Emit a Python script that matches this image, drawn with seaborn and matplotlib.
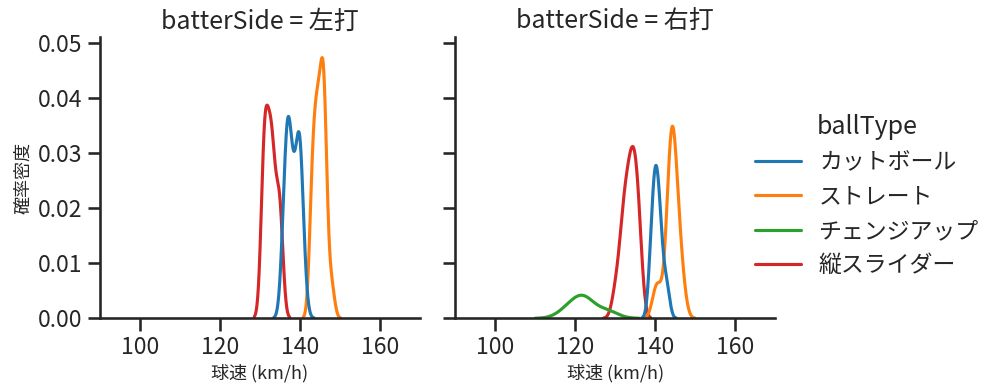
import pandas as pd
import seaborn as sns
from matplotlib import pyplot as plt

sns.set_theme(style="ticks", context="talk", palette="tab10")
plt.rcParams['font.family'] = ['Noto Sans CJK JP', 'DejaVu Sans']

sides = ["左打", "右打"]
ball_types = ["カットボール", "ストレート", "チェンジアップ", "縦スライダー"]

# 球速 (km/h), 左打
left_cutter = [136, 136, 136, 137, 137, 137, 137, 137, 137, 138, 138, 138,
               139, 139, 139, 140, 140, 140, 140, 140, 140, 141]
left_straight = [143, 143, 143, 143, 144, 144, 144, 144, 144, 145, 145, 145,
                 145, 145, 146, 146, 146, 146, 146, 146, 146, 147, 148]
left_slider = [131, 131, 131, 131, 131, 131, 132, 132, 132, 132, 133, 133,
               133, 133, 133, 134, 134, 135, 135, 135, 135]

# 球速 (km/h), 右打
right_cutter = [139, 139, 140, 140, 140, 140, 141, 141, 141, 142, 143]
right_straight = [140, 141, 143, 143, 144, 144, 144, 144, 144, 144, 145, 145,
                  145, 145, 146, 146, 147]
right_changeup = [118, 121, 122, 123, 128]
right_slider = [130, 131, 132, 132, 132, 133, 133, 133, 134, 134, 134, 134,
                135, 135, 135, 135, 136, 136, 136]

pitches = {
    "左打": {"カットボール": left_cutter, "ストレート": left_straight,
             "縦スライダー": left_slider},
    "右打": {"カットボール": right_cutter, "ストレート": right_straight,
             "チェンジアップ": right_changeup, "縦スライダー": right_slider},
}

rows = []
for side, by_type in pitches.items():
    for ball, speeds in by_type.items():
        for v in speeds:
            rows.append({"batterSide": side, "ballType": ball, "speed": v})
df = pd.DataFrame(rows)

g = sns.displot(data=df, x="speed", hue="ballType", col="batterSide", kind="kde",
                hue_order=ball_types, col_order=sides, height=4, aspect=1)
g.set(xlim=(90, 170), xticks=[100, 120, 140, 160], ylim=(0, 0.0512))
g.set_axis_labels("球速 (km/h)", "確率密度", fontsize=13)

fig = g.figure
fig.set_size_inches(9.99, 3.91)
fig.subplots_adjust(left=0.1, right=0.776, bottom=0.186, top=0.906, wspace=0.109)
sns.move_legend(g, "center left", bbox_to_anchor=(0.735, 0.50), frameon=False)

fig.savefig("out.png", dpi=100)
